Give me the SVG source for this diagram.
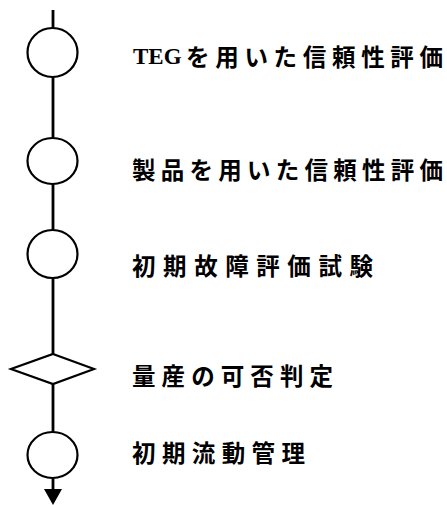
<svg xmlns="http://www.w3.org/2000/svg" width="447" height="505" viewBox="0 0 447 505">
<style>
.n{fill:#fff;stroke:#000;stroke-width:2.2}
.e{stroke:#000;stroke-width:2.8;fill:none}
.t{font-family:"Noto Sans CJK JP","Noto Sans CJK SC",sans-serif;font-size:23.5px;fill:#000;font-weight:bold}
.s{font-family:"Liberation Serif",serif;font-weight:bold;font-size:23px;fill:#000}
</style>
<rect width="447" height="505" fill="#fff"/>
<g id="connectors">
<line class="e" x1="53" y1="10" x2="53" y2="490"/>
<polygon points="44,489 62,489 53,505" fill="#000"/>
</g>
<g id="n1"><ellipse class="n" cx="52.5" cy="52.5" rx="25" ry="24.5"/>
<text class="s" x="133" y="64">TEG</text>
<text class="t" x="186" y="66" textLength="257" lengthAdjust="spacing">を用いた信頼性評価</text></g>
<g id="n2"><ellipse class="n" cx="52.5" cy="161" rx="25" ry="23"/>
<text class="t" x="132" y="179" textLength="311" lengthAdjust="spacing">製品を用いた信頼性評価</text></g>
<g id="n3"><ellipse class="n" cx="52.5" cy="254" rx="25" ry="24"/>
<text class="t" x="132" y="275" textLength="241" lengthAdjust="spacing">初期故障評価試験</text></g>
<g id="n4"><polygon class="n" points="53,354 94,369 53,384 11,369"/>
<text class="t" x="132" y="385" textLength="201" lengthAdjust="spacing">量産の可否判定</text></g>
<g id="n5"><ellipse class="n" cx="52.5" cy="455" rx="25" ry="23"/>
<text class="t" x="132" y="462" textLength="173" lengthAdjust="spacing">初期流動管理</text></g>
</svg>
